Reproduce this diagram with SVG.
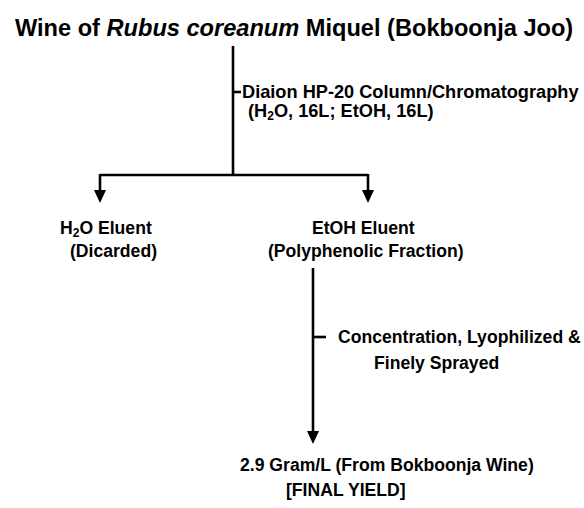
<svg xmlns="http://www.w3.org/2000/svg" width="584" height="508" viewBox="0 0 584 508">
<style>
.t{font-family:"Liberation Sans",Arial,sans-serif;font-weight:bold;fill:#000;font-size:17.6px}
.title{font-size:23.6px}
.w{font-size:18.2px}
.ln{stroke:#000;stroke-width:2.6;fill:none}
.ah{fill:#000}
</style>
<rect width="584" height="508" fill="#fff"/>
<g id="connectors">
<path class="ln" d="M233,46 V175"/>
<path class="ln" d="M233,92 H241"/>
<path class="ln" d="M100,175 H368"/>
<path class="ln" d="M100,174 V192"/>
<path class="ah" d="M94,190 L106,190 L100,203 z"/>
<path class="ln" d="M368,174 V192"/>
<path class="ah" d="M362,190 L374,190 L368,203 z"/>
<path class="ln" d="M313,268 V433"/>
<path class="ah" d="M307,431 L319,431 L313,444 z"/>
<path class="ln" d="M313,337 H326"/>
</g>
<g id="title"><text class="t title" x="15" y="36">Wine of <tspan font-style="italic">Rubus coreanum</tspan> Miquel (Bokboonja Joo)</text></g>
<g id="step1"><text class="t w" x="242" y="98">Diaion HP-20 Column/Chromatography</text>
<text class="t w" x="248" y="117">(H<tspan font-size="12" dy="3">2</tspan><tspan dy="-3">O, 16L; EtOH, 16L)</tspan></text></g>
<g id="h2o"><text class="t" x="60" y="234">H<tspan font-size="12" dy="3">2</tspan><tspan dy="-3">O Eluent</tspan></text>
<text class="t" x="70" y="257">(Dicarded)</text></g>
<g id="etoh"><text class="t" x="312" y="234">EtOH Eluent</text>
<text class="t" x="268" y="257">(Polyphenolic Fraction)</text></g>
<g id="step2"><text class="t" x="338" y="343">Concentration, Lyophilized &amp;</text>
<text class="t" x="374" y="369">Finely Sprayed</text></g>
<g id="yield"><text class="t" x="240" y="471">2.9 Gram/L (From Bokboonja Wine)</text>
<text class="t" x="286" y="496">[FINAL YIELD]</text></g>
</svg>
